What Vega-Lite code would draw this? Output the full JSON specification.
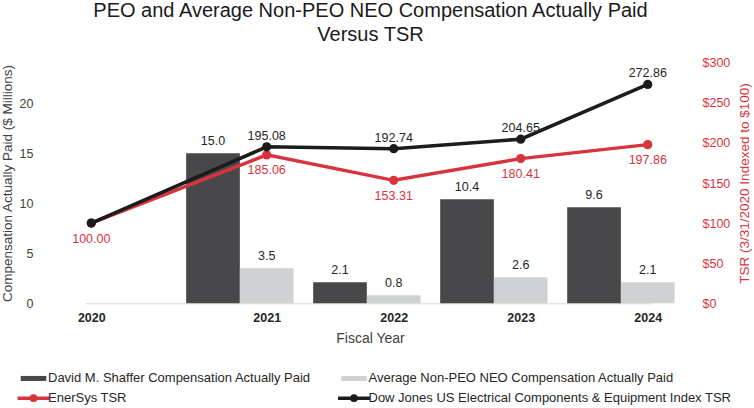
{
  "$schema": "https://vega.github.io/schema/vega-lite/v6.json",
  "width": 645,
  "height": 240.6,
  "autosize": {"type": "none"},
  "padding": {"left": 45, "top": 62.7, "right": 64, "bottom": 104.7},
  "config": {
    "font": "Liberation Sans",
    "view": {"stroke": null},
    "axis": {"labelFont": "Liberation Sans", "titleFont": "Liberation Sans"},
    "legend": {"labelFont": "Liberation Sans"}
  },
  "title": {
    "text": ["PEO and Average Non-PEO NEO Compensation Actually Paid", "Versus TSR"],
    "fontSize": 20,
    "fontWeight": "normal",
    "font": "Liberation Sans",
    "color": "#1a1a1a",
    "lineHeight": 23.5,
    "anchor": "middle",
    "frame": "group",
    "offset": 12,
    "dx": 3
  },
  "data": {
    "values": [
      {"year": 2021, "series": "David M. Shaffer Compensation Actually Paid", "value": 15.0},
      {"year": 2022, "series": "David M. Shaffer Compensation Actually Paid", "value": 2.1},
      {"year": 2023, "series": "David M. Shaffer Compensation Actually Paid", "value": 10.4},
      {"year": 2024, "series": "David M. Shaffer Compensation Actually Paid", "value": 9.6},
      {"year": 2021, "series": "Average Non-PEO NEO Compensation Actually Paid", "value": 3.5},
      {"year": 2022, "series": "Average Non-PEO NEO Compensation Actually Paid", "value": 0.8},
      {"year": 2023, "series": "Average Non-PEO NEO Compensation Actually Paid", "value": 2.6},
      {"year": 2024, "series": "Average Non-PEO NEO Compensation Actually Paid", "value": 2.1},
      {"year": 2020, "series": "EnerSys TSR", "value": 100.00},
      {"year": 2021, "series": "EnerSys TSR", "value": 185.06},
      {"year": 2022, "series": "EnerSys TSR", "value": 153.31},
      {"year": 2023, "series": "EnerSys TSR", "value": 180.41},
      {"year": 2024, "series": "EnerSys TSR", "value": 197.86},
      {"year": 2020, "series": "Dow Jones US Electrical Components & Equipment Index TSR", "value": 100.00},
      {"year": 2021, "series": "Dow Jones US Electrical Components & Equipment Index TSR", "value": 195.08},
      {"year": 2022, "series": "Dow Jones US Electrical Components & Equipment Index TSR", "value": 192.74},
      {"year": 2023, "series": "Dow Jones US Electrical Components & Equipment Index TSR", "value": 204.65},
      {"year": 2024, "series": "Dow Jones US Electrical Components & Equipment Index TSR", "value": 272.86}
    ]
  },
  "encoding": {
    "x": {
      "field": "year",
      "type": "quantitative",
      "scale": {"domain": [2020, 2021, 2024], "range": [40, 221.7, 607.3], "nice": false, "zero": false},
      "axis": {
        "values": [2020, 2021, 2022, 2023, 2024],
        "format": "d",
        "labelFontWeight": "bold",
        "labelFontSize": 12.5,
        "labelColor": "#262626",
        "labelPadding": 8.5,
        "labelFlush": false,
        "ticks": false,
        "grid": false,
        "domainColor": "#d9d9d9",
        "domainWidth": 1,
        "title": "Fiscal Year",
        "titleFontSize": 14,
        "titleFontWeight": "normal",
        "titleColor": "#404040",
        "titlePadding": 7.5,
        "titleX": 325
      }
    }
  },
  "layer": [
    {
      "transform": [{"filter": {"field": "series", "oneOf": ["David M. Shaffer Compensation Actually Paid", "Average Non-PEO NEO Compensation Actually Paid"]}}],
      "encoding": {
        "y": {
          "field": "value",
          "type": "quantitative",
          "scale": {"domain": [0, 24.06], "nice": false, "zero": true},
          "axis": {
            "orient": "left",
            "values": [0, 5, 10, 15, 20],
            "labelFontSize": 12.5,
            "labelColor": "#404040",
            "labelPadding": 12,
            "ticks": false,
            "domain": false,
            "grid": false,
            "title": "Compensation Actually Paid ($ Millions)",
            "titleFontSize": 13.5,
            "titleFontWeight": "normal",
            "titleColor": "#404040",
            "titlePadding": 5
          }
        }
      },
      "layer": [
        {
          "transform": [{"filter": {"field": "series", "equal": "David M. Shaffer Compensation Actually Paid"}}],
          "mark": {"type": "bar", "width": 53.7, "xOffset": -53.7},
          "encoding": {
            "color": {
              "field": "series",
              "type": "nominal",
              "scale": {
                "domain": ["David M. Shaffer Compensation Actually Paid", "Average Non-PEO NEO Compensation Actually Paid", "EnerSys TSR", "Dow Jones US Electrical Components & Equipment Index TSR"],
                "range": ["#48484a", "#d0d1d3", "#d8343d", "#1c1c1c"]
              },
              "legend": {
                "orient": "none",
                "legendX": -18,
                "legendY": 309,
                "direction": "horizontal",
                "columns": 2,
                "columnPadding": 19.5,
                "rowPadding": 3,
                "padding": 0,
                "title": null,
                "symbolSize": 441,
                "labelOffset": 8,
                "labelFontSize": 13,
                "labelColor": "#262626",
                "labelLimit": 500,
                "encode": {
                  "symbols": {
                    "update": {
                      "shape": {"signal": "test(/TSR$/, datum.value) ? 'M-1.52,0H1.52M-0.2,0A0.2,0.2 0 1,0 0.2,0A0.2,0.2 0 1,0 -0.2,0Z' : 'M-1.22,-0.24H1.22V0.24H-1.22Z'"},
                      "strokeWidth": {"signal": "test(/TSR$/, datum.value) ? 3.5 : 0"},
                      "fill": {"scale": "color", "field": "value"},
                      "stroke": {"scale": "color", "field": "value"},
                      "opacity": {"value": 1},
                      "fillOpacity": {"value": 1},
                      "strokeOpacity": {"value": 1}
                    }
                  }
                }
              }
            }
          }
        },
        {
          "transform": [{"filter": {"field": "series", "equal": "Average Non-PEO NEO Compensation Actually Paid"}}],
          "mark": {"type": "bar", "width": 53.7, "xOffset": 0},
          "encoding": {
            "color": {
              "field": "series",
              "type": "nominal",
              "scale": {
                "domain": ["David M. Shaffer Compensation Actually Paid", "Average Non-PEO NEO Compensation Actually Paid", "EnerSys TSR", "Dow Jones US Electrical Components & Equipment Index TSR"],
                "range": ["#48484a", "#d0d1d3", "#d8343d", "#1c1c1c"]
              }
            }
          }
        },
        {
          "transform": [{"filter": {"field": "series", "equal": "David M. Shaffer Compensation Actually Paid"}}],
          "mark": {"type": "text", "xOffset": -53.7, "dy": -8.5, "baseline": "alphabetic", "fontSize": 12.5, "color": "#262626"},
          "encoding": {"text": {"field": "value", "type": "quantitative", "format": ".1f"}}
        },
        {
          "transform": [{"filter": {"field": "series", "equal": "Average Non-PEO NEO Compensation Actually Paid"}}],
          "mark": {"type": "text", "xOffset": 0, "dy": -8.5, "baseline": "alphabetic", "fontSize": 12.5, "color": "#262626"},
          "encoding": {"text": {"field": "value", "type": "quantitative", "format": ".1f"}}
        }
      ]
    },
    {
      "transform": [{"filter": {"field": "series", "oneOf": ["EnerSys TSR", "Dow Jones US Electrical Components & Equipment Index TSR"]}}],
      "encoding": {
        "y": {
          "field": "value",
          "type": "quantitative",
          "scale": {"domain": [0, 300], "nice": false, "zero": true},
          "axis": {
            "orient": "right",
            "values": [0, 50, 100, 150, 200, 250, 300],
            "labelExpr": "'$' + datum.value",
            "labelFontSize": 12.5,
            "labelColor": "#d8343d",
            "labelPadding": 12,
            "ticks": false,
            "domain": false,
            "grid": false,
            "title": "TSR (3/31/2020 Indexed to $100)",
            "titleFontSize": 13.5,
            "titleFontWeight": "normal",
            "titleColor": "#d8343d",
            "titleAngle": 270,
            "titlePadding": 22
          }
        }
      },
      "layer": [
        {
          "transform": [{"filter": {"field": "series", "equal": "EnerSys TSR"}}],
          "mark": {"type": "line", "strokeWidth": 3.5, "point": {"filled": true, "size": 85, "opacity": 1}},
          "encoding": {
            "color": {
              "field": "series",
              "type": "nominal",
              "scale": {
                "domain": ["David M. Shaffer Compensation Actually Paid", "Average Non-PEO NEO Compensation Actually Paid", "EnerSys TSR", "Dow Jones US Electrical Components & Equipment Index TSR"],
                "range": ["#48484a", "#d0d1d3", "#d8343d", "#1c1c1c"]
              }
            }
          }
        },
        {
          "transform": [{"filter": {"field": "series", "equal": "Dow Jones US Electrical Components & Equipment Index TSR"}}],
          "mark": {"type": "line", "strokeWidth": 3.5, "point": {"filled": true, "size": 85, "opacity": 1}},
          "encoding": {
            "color": {
              "field": "series",
              "type": "nominal",
              "scale": {
                "domain": ["David M. Shaffer Compensation Actually Paid", "Average Non-PEO NEO Compensation Actually Paid", "EnerSys TSR", "Dow Jones US Electrical Components & Equipment Index TSR"],
                "range": ["#48484a", "#d0d1d3", "#d8343d", "#1c1c1c"]
              }
            }
          }
        },
        {
          "transform": [{"filter": {"field": "series", "equal": "EnerSys TSR"}}],
          "mark": {"type": "text", "dy": 19.5, "baseline": "alphabetic", "fontSize": 12.5, "color": "#d8343d"},
          "encoding": {"text": {"field": "value", "type": "quantitative", "format": ".2f"}}
        },
        {
          "transform": [{"filter": {"field": "series", "equal": "Dow Jones US Electrical Components & Equipment Index TSR"}}, {"filter": "datum.year > 2020"}],
          "mark": {"type": "text", "dy": -7, "baseline": "alphabetic", "fontSize": 12.5, "color": "#262626"},
          "encoding": {"text": {"field": "value", "type": "quantitative", "format": ".2f"}}
        }
      ]
    }
  ],
  "resolve": {"scale": {"y": "independent"}}
}
